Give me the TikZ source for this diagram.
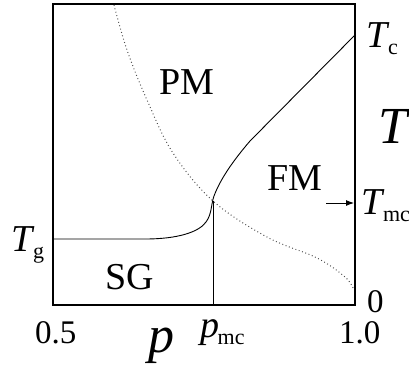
\documentclass[tikz,border=0pt]{standalone}
\usepackage{fontspec}
\setmainfont{Liberation Serif}
\usetikzlibrary{arrows.meta}
\newcommand{\lowidx}[1]{\kern-1.5pt\raisebox{-7pt}{\fontsize{22}{22}\selectfont #1}}
\tikzset{
  phaselbl/.style={inner sep=0pt, anchor=base west, font=\fontsize{38}{38}\selectfont},
  ticklbl/.style={inner sep=0pt, anchor=base west, font=\fontsize{33}{33}\selectfont},
  axislbl/.style={inner sep=0pt, anchor=base west, font=\fontsize{52}{52}\selectfont\itshape},
  frameline/.style={line width=1.4pt},
  boundary/.style={line width=0.9pt},
  crossover/.style={line width=1pt, black!70, dash pattern=on 0.9pt off 2.6pt},
  markarr/.style={-{Latex[length=8pt,width=6pt]}, line width=0.9pt},
}

\begin{document}
\begin{tikzpicture}[x=1pt, y=-1pt]
  \useasboundingbox (0,0) rectangle (409,367);
  % frame of the phase diagram
  \draw[frameline] (53,4) rectangle (355,305);
  \coordinate (pbot) at (213,305);
  \coordinate (multi) at (213,201);
  \coordinate (tgleft) at (53,239);
  \coordinate (tctop) at (355,35);
  \coordinate (arrstart) at (326,203);
  \coordinate (arrend) at (354,203);

  % phase boundaries
  \draw[boundary] (tgleft) -- (145,239) .. controls (178,239) and (199,232) .. (206,222)
    .. controls (212,214) and (211,204) .. (214,196)
    .. controls (220,180) and (232,162) .. (250,141) -- (tctop);
  \draw[boundary] (multi) -- (pbot);
  % Nishimori line
  \draw[crossover] plot[smooth, tension=0.6] coordinates
    {(114,5) (127,50) (147,100) (173,153) (213,201) (267,237) (317,258) (345,277) (354,290)};
  \draw[markarr] (arrstart) -- (arrend);

  % phases
  \node[phaselbl] (pm) at (159,94) {PM};
  \node[phaselbl] (fm) at (267,190) {FM};
  \node[phaselbl] (sg) at (105,289) {SG};

  % temperature labels
  \node[phaselbl] (tc) at (366,47) {\textit{T}\lowidx{c}};
  \node[phaselbl] (tmc) at (361,214) {\textit{T}\lowidx{mc}};
  \node[phaselbl] (tg) at (11,251) {\textit{T}\lowidx{g}};
  \node[ticklbl] (tzero) at (367,312) {0};
  \node[axislbl] (tax) at (378,143) {T};

  % concentration labels
  \node[ticklbl] (phalf) at (35,343) {0.5};
  \node[ticklbl] (pone) at (339,343) {1.0};
  \node[phaselbl] (pmclbl) at (200,337) {\textit{p}\lowidx{mc}};
  \node[axislbl] (pax) at (148,352) {p};
\end{tikzpicture}
\end{document}
